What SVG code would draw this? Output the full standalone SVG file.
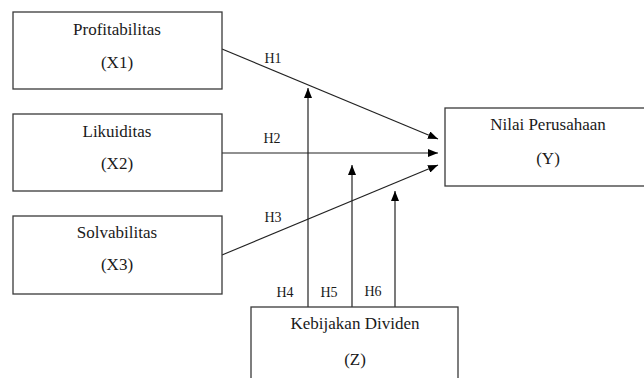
<svg xmlns="http://www.w3.org/2000/svg" width="644" height="378" viewBox="0 0 644 378">
<defs>
<marker id="ah" markerUnits="userSpaceOnUse" markerWidth="10" markerHeight="8" refX="10" refY="4" orient="auto">
<path d="M0,0 L10,4 L0,8 Z" fill="#000"/>
</marker>
</defs>
<style>
.box{fill:#fff;stroke:#3a3a3a;stroke-width:1.3}
.t{font-size:17px;fill:#1a1a1a;text-anchor:middle}
.h{font-size:14px;fill:#1a1a1a;text-anchor:middle}
.c{stroke:#222;stroke-width:1.2;fill:none}
</style>
<rect width="644" height="378" fill="#fff"/>
<g id="connectors">
<line class="c" x1="222" y1="49" x2="438" y2="139" marker-end="url(#ah)"/>
<line class="c" x1="222" y1="153" x2="438" y2="153" marker-end="url(#ah)"/>
<line class="c" x1="222" y1="255" x2="438" y2="165" marker-end="url(#ah)"/>
<line class="c" x1="308" y1="307" x2="308" y2="88" marker-end="url(#ah)"/>
<line class="c" x1="352" y1="307" x2="352" y2="165" marker-end="url(#ah)"/>
<line class="c" x1="395" y1="307" x2="395" y2="191" marker-end="url(#ah)"/>
<text class="h" font-family="Liberation Serif, serif" x="273" y="63">H1</text>
<text class="h" font-family="Liberation Serif, serif" x="272" y="143">H2</text>
<text class="h" font-family="Liberation Serif, serif" x="273" y="222">H3</text>
<text class="h" font-family="Liberation Serif, serif" x="285" y="297">H4</text>
<text class="h" font-family="Liberation Serif, serif" x="329" y="297">H5</text>
<text class="h" font-family="Liberation Serif, serif" x="373" y="296">H6</text>
</g>
<g id="x1">
<rect class="box" x="13" y="12" width="209" height="77"/>
<text class="t" font-family="Liberation Serif, serif" x="117" y="35">Profitabilitas</text>
<text class="t" font-family="Liberation Serif, serif" x="117" y="68">(X1)</text>
</g>
<g id="x2">
<rect class="box" x="13" y="114" width="209" height="77"/>
<text class="t" font-family="Liberation Serif, serif" x="117" y="137">Likuiditas</text>
<text class="t" font-family="Liberation Serif, serif" x="117" y="169">(X2)</text>
</g>
<g id="x3">
<rect class="box" x="13" y="216" width="209" height="78"/>
<text class="t" font-family="Liberation Serif, serif" x="117" y="238">Solvabilitas</text>
<text class="t" font-family="Liberation Serif, serif" x="117" y="270">(X3)</text>
</g>
<g id="y">
<rect class="box" x="445" y="108" width="210" height="78"/>
<text class="t" font-family="Liberation Serif, serif" x="548" y="130">Nilai Perusahaan</text>
<text class="t" font-family="Liberation Serif, serif" x="548" y="164">(Y)</text>
</g>
<g id="z">
<rect class="box" x="251" y="307" width="207" height="80"/>
<text class="t" font-family="Liberation Serif, serif" x="355" y="329">Kebijakan Dividen</text>
<text class="t" font-family="Liberation Serif, serif" x="355" y="365">(Z)</text>
</g>
</svg>
